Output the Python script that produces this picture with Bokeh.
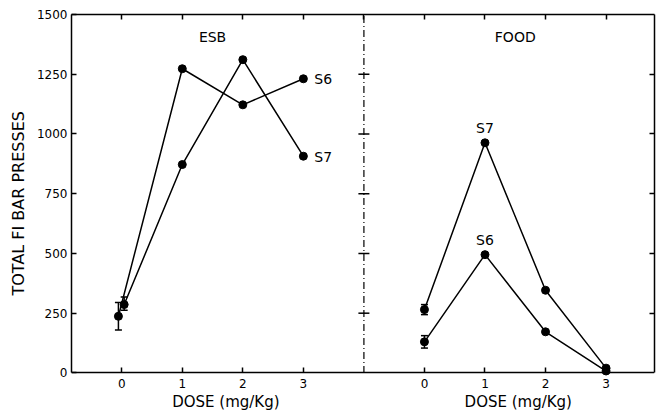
from bokeh.plotting import figure
from bokeh.models import (LinearAxis, FixedTicker, Label, Whisker, TeeHead, Title,
                          ColumnDataSource, Range1d, CustomJSTickFormatter)
from bokeh.embed import file_html
from bokeh.resources import INLINE

# ---------------- data ----------------
dose = [0, 1, 2, 3]
dose_ticks = [0, 1, 2, 3]
y_ticks = [0, 250, 500, 750, 1000, 1250, 1500]

esb_s6 = [237, 1273, 1122, 1231]
esb_s7 = [286, 872, 1311, 907]
food_s6 = [130, 495, 172, 8]
food_s7 = [265, 963, 346, 20]

# baseline (dose 0) error bars: (lower, upper)
esb_s6_err = (180, 295)
esb_s7_err = (262, 318)
food_s6_err = (104, 156)
food_s7_err = (244, 286)

# plotting offsets (layout, not data)
FOOD_OFFSET = 5.0
esb_s6_shift = [-0.055, 0, 0, 0]
esb_s7_shift = [0.04, 0, 0, 0]
Y_MIN, Y_MAX = 0, 1500

FONT = "DejaVu Sans"

p = figure(frame_width=583, frame_height=400, output_backend="svg", toolbar_location=None,
           x_range=Range1d(-0.83, 8.8), y_range=Range1d(-174, Y_MAX),
           min_border_left=68, min_border_right=2, min_border_top=14, min_border_bottom=0,
           x_axis_type=None, y_axis_type=None)
p.grid.visible = False
p.outline_line_color = None
p.background_fill_color = "white"
p.border_fill_color = "white"

blank = CustomJSTickFormatter(code="return ''")

def style_axis(ax, labels=True):
    ax.axis_line_color = "black"
    ax.axis_line_width = 1.5
    ax.major_tick_line_color = "black"
    ax.major_tick_line_width = 1.5
    ax.major_tick_in = 5
    ax.major_tick_out = 0
    ax.minor_tick_line_color = None
    ax.major_label_text_font = FONT
    ax.major_label_text_color = "black"
    ax.major_label_text_font_size = "12px"
    if not labels:
        ax.formatter = blank
        ax.major_label_standoff = 0

# left axis
yl = LinearAxis(ticker=FixedTicker(ticks=y_ticks), bounds=(Y_MIN, Y_MAX))
style_axis(yl)
yl.major_label_standoff = 4
p.add_layout(yl, "left")

# y axis title (placed so it is centred on the 0-1500 span)
p.add_layout(Title(text="TOTAL FI BAR PRESSES", align="left", offset=119,
                   text_font=FONT, text_font_size="16px", text_font_style="normal",
                   text_color="black", standoff=12), "left")

# right axis (ticks only)
yr = LinearAxis(ticker=FixedTicker(ticks=y_ticks[1:-1]), bounds=(Y_MIN, Y_MAX))
style_axis(yr, labels=False)
p.add_layout(yr, "right")

# bottom axis, pinned at y = 0
bx_ticks = dose_ticks + [d + FOOD_OFFSET for d in dose_ticks]
xb = LinearAxis(ticker=FixedTicker(ticks=bx_ticks), fixed_location=Y_MIN)
style_axis(xb)
xb.major_label_standoff = 6
xb.major_label_overrides = {d + FOOD_OFFSET: str(d) for d in dose_ticks}
p.add_layout(xb, "below")

# top axis (ticks only)
xt = LinearAxis(ticker=FixedTicker(ticks=dose_ticks + [4] + [d + FOOD_OFFSET for d in dose_ticks]))
style_axis(xt, labels=False)
p.add_layout(xt, "above")

# divider between panels
p.segment(x0=[4], y0=[Y_MIN], x1=[4], y1=[Y_MAX], line_color="black",
          line_width=1.2, line_dash="7 3 1 3")
p.scatter(x=[4] * 5, y=y_ticks[1:-1], marker="dash", size=11,
          line_color="black", line_width=1.5)

# series
def series(xs, ys):
    p.line(xs, ys, line_color="black", line_width=1.5)
    p.scatter(xs, ys, size=8, fill_color="black", line_color="black")

esb_x6 = [d + s for d, s in zip(dose, esb_s6_shift)]
esb_x7 = [d + s for d, s in zip(dose, esb_s7_shift)]
food_x = [d + FOOD_OFFSET for d in dose]
series(esb_x6, esb_s6)
series(esb_x7, esb_s7)
series(food_x, food_s6)
series(food_x, food_s7)

err_src = ColumnDataSource(dict(
    x=[esb_x6[0], esb_x7[0], food_x[0], food_x[0]],
    lower=[esb_s6_err[0], esb_s7_err[0], food_s6_err[0], food_s7_err[0]],
    upper=[esb_s6_err[1], esb_s7_err[1], food_s6_err[1], food_s7_err[1]],
))
p.add_layout(Whisker(source=err_src, base="x", lower="lower", upper="upper",
                     dimension="height", line_color="black", line_width=1.5,
                     upper_head=TeeHead(size=7, line_color="black", line_width=1.5),
                     lower_head=TeeHead(size=7, line_color="black", line_width=1.5)))

def lab(x, y, t, size="14px", align="left"):
    p.add_layout(Label(x=x, y=y, text=t, text_font=FONT, text_font_size=size,
                       text_align=align, text_baseline="middle", text_color="black"))

lab(1.5, 1407, "ESB", align="center")
lab(1.5 + FOOD_OFFSET, 1407, "FOOD", align="center")
lab(3.18, 1228, "S6")
lab(3.18, 905, "S7")
lab(1.0 + FOOD_OFFSET, 1027, "S7", align="center")
lab(1.0 + FOOD_OFFSET, 558, "S6", align="center")
lab(1.72, -122, "DOSE (mg/Kg)", size="15px", align="center")
lab(1.55 + FOOD_OFFSET, -122, "DOSE (mg/Kg)", size="15px", align="center")

open("out.html", "w").write(file_html(p, INLINE))
